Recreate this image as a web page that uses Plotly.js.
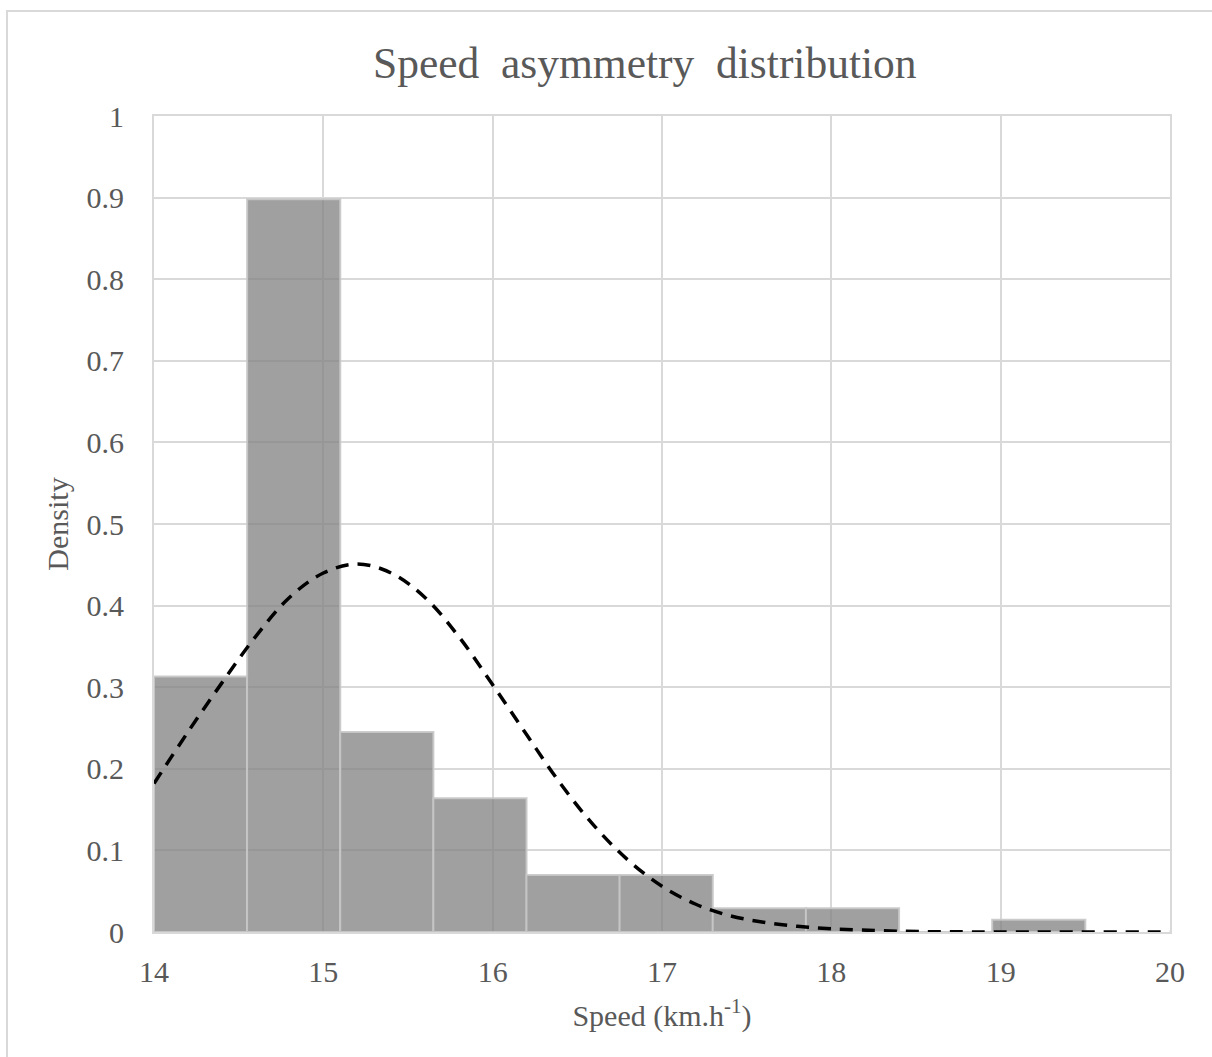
<!DOCTYPE html>
<html>
<head>
<meta charset="utf-8">
<script src="https://cdn.plot.ly/plotly-3.0.1.min.js"></script>
<style>
  html, body { margin: 0; padding: 0; background: #ffffff; }
  #chart { width: 1212px; height: 1057px; position: absolute; left: 0; top: 0; }
  #frame { position: absolute; left: 6px; top: 10px; width: 1220px; height: 1060px;
           border-left: 2px solid #d9d9d9; border-top: 2px solid #d9d9d9; pointer-events: none; }
</style>
</head>
<body>
<div id="chart"></div>
<div id="frame"></div>
<script>
// Histogram bins (left edges) and densities
const binLeft = [14.00, 14.55, 15.10, 15.65, 16.20, 16.75, 17.30, 17.85, 18.40, 18.95];
const binWidth = 0.55;
const density = [0.313, 0.898, 0.245, 0.164, 0.070, 0.070, 0.029, 0.029, 0.0, 0.015];

// Dashed fitted curve
const curveX = [14.0, 14.2, 14.4, 14.6, 14.8, 15.0, 15.2, 15.4, 15.6, 15.8, 16.0, 16.2, 16.4, 16.6, 16.8, 17.0, 17.2, 17.4, 17.6, 17.8, 18.0, 18.4, 19.0, 20.0];
const curveY = [0.182, 0.245, 0.305, 0.362, 0.410, 0.440, 0.451, 0.440, 0.410, 0.362, 0.303, 0.242, 0.182, 0.130, 0.088, 0.056, 0.034, 0.020, 0.012, 0.007, 0.004, 0.001, 0.0, 0.0];

// Tick labels
const xTicks = [14, 15, 16, 17, 18, 19, 20];
const yTicks = [0, 0.1, 0.2, 0.3, 0.4, 0.5, 0.6, 0.7, 0.8, 0.9, 1];
const yTickText = ['0', '0.1', '0.2', '0.3', '0.4', '0.5', '0.6', '0.7', '0.8', '0.9', '1'];

const binCenter = binLeft.map(v => v + binWidth / 2);
const textColor = '#595959';
const font = 'Liberation Serif, Times New Roman, serif';

const traces = [
  {
    type: 'bar',
    x: binCenter,
    y: density,
    width: binWidth,
    marker: { color: 'rgba(128,128,128,0.75)', line: { color: 'rgba(200,200,200,0.9)', width: 2 } },
    hoverinfo: 'x+y',
    showlegend: false
  },
  {
    type: 'scatter',
    mode: 'lines',
    x: curveX,
    y: curveY,
    line: { color: '#000000', width: 3.5, dash: '13px,9px', shape: 'spline', smoothing: 1 },
    showlegend: false
  }
];

const layout = {
  width: 1212,
  height: 1057,
  margin: { l: 154, r: 42, t: 116, b: 125 },
  paper_bgcolor: '#ffffff',
  plot_bgcolor: '#ffffff',
  font: { family: font, color: textColor, size: 30 },
  title: {
    text: 'Speed  asymmetry  distribution',
    font: { family: font, size: 43.5, color: textColor },
    xref: 'container', x: 0.532, xanchor: 'center',
    yref: 'container', y: 0.941, yanchor: 'middle'
  },
  bargap: 0,
  xaxis: {
    range: [14, 20],
    tickvals: xTicks,
    ticktext: xTicks.map(String),
    showgrid: true,
    gridcolor: '#d9d9d9',
    gridwidth: 2,
    showline: true,
    linecolor: '#d9d9d9',
    linewidth: 2,
    mirror: true,
    zeroline: false,
    ticks: '',
    ticklabelstandoff: 12,
    tickfont: { family: font, size: 30, color: textColor },
    title: { text: 'Speed (km.h<sup>-1</sup>)', font: { family: font, size: 30, color: textColor }, standoff: 18 }
  },
  yaxis: {
    range: [0, 1],
    tickvals: yTicks,
    ticktext: yTickText,
    showgrid: true,
    gridcolor: '#d9d9d9',
    gridwidth: 2,
    showline: true,
    linecolor: '#d9d9d9',
    linewidth: 2,
    mirror: true,
    zeroline: false,
    ticks: '',
    ticklabelstandoff: 22,
    tickfont: { family: font, size: 30, color: textColor },
    title: { text: 'Density', font: { family: font, size: 30, color: textColor }, standoff: 9 }
  }
};

Plotly.newPlot('chart', traces, layout, { displayModeBar: false, staticPlot: true });
</script>
</body>
</html>
